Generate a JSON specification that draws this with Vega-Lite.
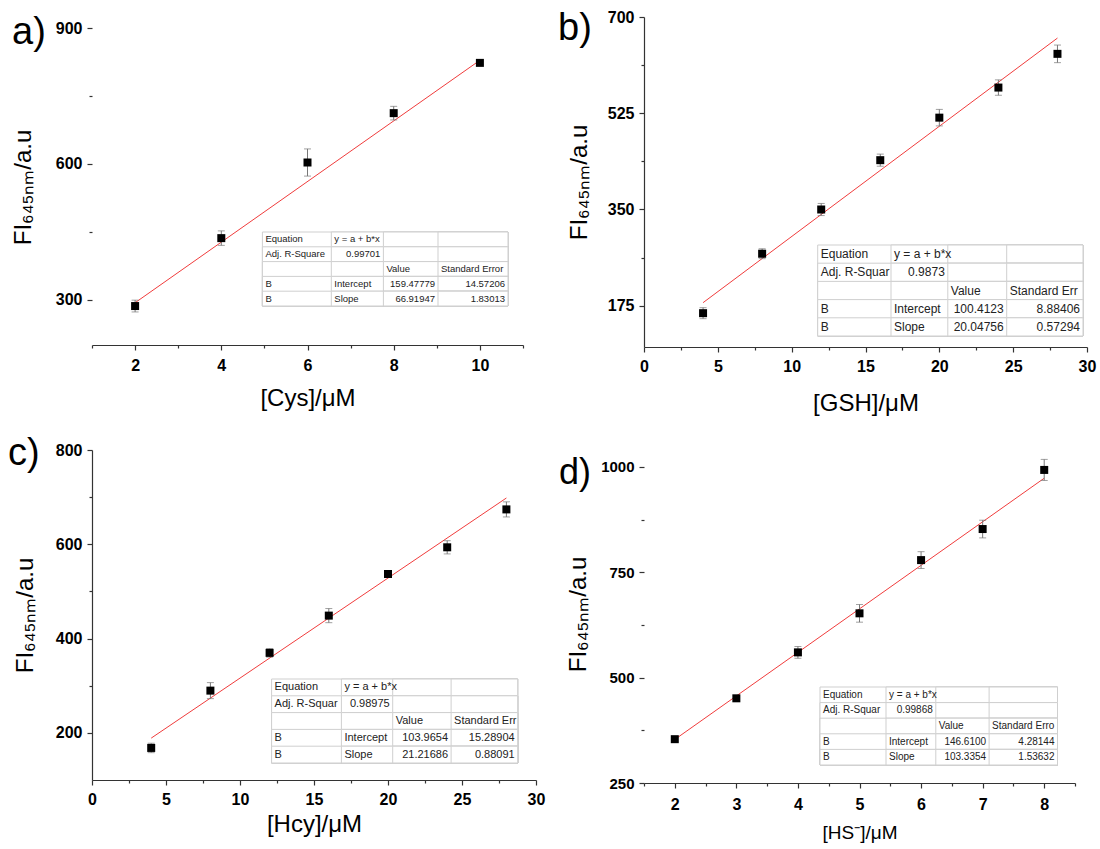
{
  "$schema": "https://vega.github.io/schema/vega-lite/v6.json",
  "autosize": {"type": "none"},
  "padding": {"left": 92, "top": 17, "right": 1008, "bottom": 832},
  "background": "white",
  "config": {
    "font": "Liberation Sans",
    "view": {"stroke": null},
    "axis": {"grid": false, "domainColor": "#333333", "domainWidth": 1.2, "tickColor": "#333333", "tickWidth": 1.2, "labelFont": "Liberation Sans", "labelFontWeight": "bold", "labelFontSize": 16, "labelColor": "#000000", "labelFlush": false, "labelOverlap": false, "labelBound": false, "titleFont": "Liberation Sans", "titleFontWeight": "normal", "titleColor": "#000000", "titleFontSize": 24},
    "axisY": {"labelPadding": 5},
    "title": {"font": "Liberation Sans", "fontWeight": "normal", "color": "#000000", "anchor": "start", "frame": "group", "orient": "top", "offset": 0, "baseline": "alphabetic", "fontSize": 38},
    "text": {"font": "Liberation Sans", "color": "#222222", "baseline": "middle"}
  },
  "datasets": {
    "ptsA": [{"x": 2, "y": 286, "e": 13}, {"x": 4, "y": 436, "e": 16}, {"x": 6, "y": 603, "e": 30}, {"x": 8, "y": 712, "e": 15}, {"x": 10, "y": 823, "e": 4}],
    "fitA": [{"x": 2, "y": 293.3}, {"x": 10, "y": 828.7}],
    "ptsB": [{"x": 4, "y": 161.5, "e": 10}, {"x": 8, "y": 269.6, "e": 9}, {"x": 12, "y": 350, "e": 11}, {"x": 16, "y": 439.7, "e": 11}, {"x": 20, "y": 517, "e": 15}, {"x": 24, "y": 571.7, "e": 14}, {"x": 28, "y": 633, "e": 16}],
    "fitB": [{"x": 4, "y": 180.6}, {"x": 28, "y": 661.7}],
    "ptsC": [{"x": 4, "y": 168, "e": 10}, {"x": 8, "y": 289.6, "e": 17}, {"x": 12, "y": 369.7, "e": 9}, {"x": 16, "y": 448.7, "e": 15}, {"x": 20, "y": 537, "e": 7}, {"x": 24, "y": 593.6, "e": 14}, {"x": 28, "y": 674, "e": 16}],
    "fitC": [{"x": 4, "y": 188.8}, {"x": 28, "y": 698.2}],
    "ptsD": [{"x": 2, "y": 354, "e": 5}, {"x": 3, "y": 451, "e": 6}, {"x": 4, "y": 560, "e": 14}, {"x": 5, "y": 652.7, "e": 21}, {"x": 6, "y": 779, "e": 20}, {"x": 7, "y": 852.7, "e": 21}, {"x": 8, "y": 993, "e": 25}],
    "fitD": [{"x": 2, "y": 353.3}, {"x": 8, "y": 973.3}],
    "tabA": [
      {"r": 0, "c": 0, "t": "Equation"}, {"r": 0, "c": 1, "t": "y = a + b*x"}, {"r": 0, "c": 2, "t": ""}, {"r": 0, "c": 3, "t": ""},
      {"r": 1, "c": 0, "t": "Adj. R-Square"}, {"r": 1, "c": 1, "t": "0.99701"}, {"r": 1, "c": 2, "t": ""}, {"r": 1, "c": 3, "t": ""},
      {"r": 2, "c": 0, "t": ""}, {"r": 2, "c": 1, "t": ""}, {"r": 2, "c": 2, "t": "Value"}, {"r": 2, "c": 3, "t": "Standard Error"},
      {"r": 3, "c": 0, "t": "B"}, {"r": 3, "c": 1, "t": "Intercept"}, {"r": 3, "c": 2, "t": "159.47779"}, {"r": 3, "c": 3, "t": "14.57206"},
      {"r": 4, "c": 0, "t": "B"}, {"r": 4, "c": 1, "t": "Slope"}, {"r": 4, "c": 2, "t": "66.91947"}, {"r": 4, "c": 3, "t": "1.83013"}
    ],
    "tabB": [
      {"r": 0, "c": 0, "t": "Equation"}, {"r": 0, "c": 1, "t": "y = a + b*x"}, {"r": 0, "c": 2, "t": ""}, {"r": 0, "c": 3, "t": ""},
      {"r": 1, "c": 0, "t": "Adj. R-Squar"}, {"r": 1, "c": 1, "t": "0.9873"}, {"r": 1, "c": 2, "t": ""}, {"r": 1, "c": 3, "t": ""},
      {"r": 2, "c": 0, "t": ""}, {"r": 2, "c": 1, "t": ""}, {"r": 2, "c": 2, "t": "Value"}, {"r": 2, "c": 3, "t": "Standard Err"},
      {"r": 3, "c": 0, "t": "B"}, {"r": 3, "c": 1, "t": "Intercept"}, {"r": 3, "c": 2, "t": "100.4123"}, {"r": 3, "c": 3, "t": "8.88406"},
      {"r": 4, "c": 0, "t": "B"}, {"r": 4, "c": 1, "t": "Slope"}, {"r": 4, "c": 2, "t": "20.04756"}, {"r": 4, "c": 3, "t": "0.57294"}
    ],
    "tabC": [
      {"r": 0, "c": 0, "t": "Equation"}, {"r": 0, "c": 1, "t": "y = a + b*x"}, {"r": 0, "c": 2, "t": ""}, {"r": 0, "c": 3, "t": ""},
      {"r": 1, "c": 0, "t": "Adj. R-Squar"}, {"r": 1, "c": 1, "t": "0.98975"}, {"r": 1, "c": 2, "t": ""}, {"r": 1, "c": 3, "t": ""},
      {"r": 2, "c": 0, "t": ""}, {"r": 2, "c": 1, "t": ""}, {"r": 2, "c": 2, "t": "Value"}, {"r": 2, "c": 3, "t": "Standard Err"},
      {"r": 3, "c": 0, "t": "B"}, {"r": 3, "c": 1, "t": "Intercept"}, {"r": 3, "c": 2, "t": "103.9654"}, {"r": 3, "c": 3, "t": "15.28904"},
      {"r": 4, "c": 0, "t": "B"}, {"r": 4, "c": 1, "t": "Slope"}, {"r": 4, "c": 2, "t": "21.21686"}, {"r": 4, "c": 3, "t": "0.88091"}
    ],
    "tabD": [
      {"r": 0, "c": 0, "t": "Equation"}, {"r": 0, "c": 1, "t": "y = a + b*x"}, {"r": 0, "c": 2, "t": ""}, {"r": 0, "c": 3, "t": ""},
      {"r": 1, "c": 0, "t": "Adj. R-Squar"}, {"r": 1, "c": 1, "t": "0.99868"}, {"r": 1, "c": 2, "t": ""}, {"r": 1, "c": 3, "t": ""},
      {"r": 2, "c": 0, "t": ""}, {"r": 2, "c": 1, "t": ""}, {"r": 2, "c": 2, "t": "Value"}, {"r": 2, "c": 3, "t": "Standard Erro"},
      {"r": 3, "c": 0, "t": "B"}, {"r": 3, "c": 1, "t": "Intercept"}, {"r": 3, "c": 2, "t": "146.6100"}, {"r": 3, "c": 3, "t": "4.28144"},
      {"r": 4, "c": 0, "t": "B"}, {"r": 4, "c": 1, "t": "Slope"}, {"r": 4, "c": 2, "t": "103.3354"}, {"r": 4, "c": 3, "t": "1.53632"}
    ]
  },
  "columns": 2,
  "align": "each",
  "bounds": "flush",
  "spacing": {"row": 103, "column": 108},
  "concat": [
    {
      "width": 431, "height": 328,
      "title": {"text": "a)", "dx": -80, "dy": 39},
      "resolve": {"scale": {"x": "independent", "y": "independent"}, "axis": {"x": "independent", "y": "independent"}},
      "layer": [
        {
          "encoding": {
            "x": {"field": "x", "type": "quantitative", "scale": {"domain": [1, 11], "nice": false, "zero": false},
              "axis": {"title": "[Cys]/μM", "values": [1, 2, 3, 4, 5, 6, 7, 8, 9, 10, 11], "labelExpr": "datum.value % 2 === 0 ? '' + datum.value : ''", "tickSize": {"condition": {"test": "datum.value % 2 !== 0", "value": 3}, "value": 5}, "labelPadding": 7, "titleY": 41, "titleBaseline": "top"}},
            "y": {"field": "y", "type": "quantitative", "scale": {"domain": [200, 924.3], "nice": false, "zero": false},
              "axis": {"title": "FI₆₄₅ₙₘ/a.u", "values": [300, 450, 600, 750, 900], "labelExpr": "datum.value % 300 === 0 ? '' + datum.value : ''", "tickSize": {"condition": {"test": "datum.value % 300 !== 0", "value": 3}, "value": 5}, "domain": false, "titleX": -57, "titleY": 170, "titleBaseline": "bottom"}}
          },
          "layer": [
            {"data": {"values": [{}]}, "mark": {"type": "rule", "color": "#333333", "strokeWidth": 1.2}, "encoding": {"x": {"datum": 1}, "y": {"datum": 200}, "y2": {"datum": 900}}},
            {"data": {"name": "fitA"}, "mark": {"type": "line", "color": "#f03c3c", "strokeWidth": 1}},
            {"data": {"name": "ptsA"}, "mark": {"type": "errorbar", "rule": {"color": "#777777", "strokeWidth": 1}, "ticks": {"color": "#777777", "size": 7, "strokeWidth": 1}}, "encoding": {"yError": {"field": "e"}}},
            {"data": {"name": "ptsA"}, "mark": {"type": "square", "size": 64, "color": "#000000", "opacity": 1}}
          ]
        },
        {
          "data": {"name": "tabA"},
          "encoding": {
            "y": {"field": "r", "type": "quantitative", "scale": {"domain": [0, 5], "range": [215, 289], "nice": false, "zero": false}, "axis": null}
          },
          "resolve": {"scale": {"x": "independent"}, "axis": {"x": "independent"}},
          "layer": [
            {
              "encoding": {"x": {"field": "c", "type": "quantitative", "scale": {"domain": [0, 1, 2, 3, 4], "range": [170.4, 239.3, 291.4, 346, 416], "nice": false, "zero": false}, "axis": null}},
              "layer": [
                {"mark": {"type": "rect", "fill": "#ffffff", "stroke": "#cfcfcf", "strokeWidth": 1}, "encoding": {"x2": {"datum": 4}, "y2": {"datum": 5}}},
                {"data": {"values": [{}]}, "mark": {"type": "rect", "fill": null, "stroke": "#8a8a8a", "strokeWidth": 1.2}, "encoding": {"x": {"datum": 0}, "x2": {"datum": 4}, "y": {"datum": 0}, "y2": {"datum": 5}}},
                {"transform": [{"filter": "datum.t != '' && !test(/^[0-9.]+$/, datum.t)"}], "mark": {"type": "text", "align": "left", "dx": 3, "dy": 7.4, "fontSize": 9.5}, "encoding": {"text": {"field": "t"}}}
              ]
            },
            {"transform": [{"filter": "test(/^[0-9.]+$/, datum.t)"}], "mark": {"type": "text", "align": "right", "dx": -3, "dy": 7.4, "fontSize": 9.5},
              "encoding": {"x": {"field": "c", "type": "quantitative", "scale": {"domain": [0, 1, 2, 3], "range": [239.3, 291.4, 346, 416], "nice": false, "zero": false}, "axis": null}, "text": {"field": "t"}}}
          ]
        }
      ]
    },
    {
      "width": 443, "height": 330,
      "title": {"text": "b)", "dx": -86, "dy": 43},
      "resolve": {"scale": {"x": "independent", "y": "independent"}, "axis": {"x": "independent", "y": "independent"}},
      "layer": [
        {
          "encoding": {
            "x": {"field": "x", "type": "quantitative", "scale": {"domain": [0, 30], "nice": false, "zero": false},
              "axis": {"title": "[GSH]/μM", "values": [0, 2.5, 5, 7.5, 10, 12.5, 15, 17.5, 20, 22.5, 25, 27.5, 30], "labelExpr": "datum.value % 5 === 0 ? '' + datum.value : ''", "tickSize": {"condition": {"test": "datum.value % 5 !== 0", "value": 3}, "value": 5}, "labelPadding": 6, "titleY": 44, "titleBaseline": "top"}},
            "y": {"field": "y", "type": "quantitative", "scale": {"domain": [100, 700], "nice": false, "zero": false},
              "axis": {"title": "FI₆₄₅ₙₘ/a.u", "values": [175, 262.5, 350, 437.5, 525, 612.5, 700], "labelExpr": "datum.value % 175 === 0 ? '' + datum.value : ''", "tickSize": {"condition": {"test": "datum.value % 175 !== 0", "value": 3}, "value": 5}, "titleX": -53, "titleY": 165, "titleBaseline": "bottom"}}
          },
          "layer": [
            {"data": {"name": "fitB"}, "mark": {"type": "line", "color": "#f03c3c", "strokeWidth": 1}},
            {"data": {"name": "ptsB"}, "mark": {"type": "errorbar", "rule": {"color": "#777777", "strokeWidth": 1}, "ticks": {"color": "#777777", "size": 7, "strokeWidth": 1}}, "encoding": {"yError": {"field": "e"}}},
            {"data": {"name": "ptsB"}, "mark": {"type": "square", "size": 64, "color": "#000000", "opacity": 1}}
          ]
        },
        {
          "data": {"name": "tabB"},
          "encoding": {
            "y": {"field": "r", "type": "quantitative", "scale": {"domain": [0, 5], "range": [228, 319], "nice": false, "zero": false}, "axis": null}
          },
          "resolve": {"scale": {"x": "independent"}, "axis": {"x": "independent"}},
          "layer": [
            {
              "encoding": {"x": {"field": "c", "type": "quantitative", "scale": {"domain": [0, 1, 2, 3, 4], "range": [173.7, 247, 303.8, 362.7, 439], "nice": false, "zero": false}, "axis": null}},
              "layer": [
                {"mark": {"type": "rect", "fill": "#ffffff", "stroke": "#cfcfcf", "strokeWidth": 1}, "encoding": {"x2": {"datum": 4}, "y2": {"datum": 5}}},
                {"data": {"values": [{}]}, "mark": {"type": "rect", "fill": null, "stroke": "#8a8a8a", "strokeWidth": 1.2}, "encoding": {"x": {"datum": 0}, "x2": {"datum": 4}, "y": {"datum": 0}, "y2": {"datum": 5}}},
                {"transform": [{"filter": "datum.t != '' && !test(/^[0-9.]+$/, datum.t)"}], "mark": {"type": "text", "align": "left", "dx": 3, "dy": 9.1, "fontSize": 12}, "encoding": {"text": {"field": "t"}}}
              ]
            },
            {"transform": [{"filter": "test(/^[0-9.]+$/, datum.t)"}], "mark": {"type": "text", "align": "right", "dx": -3, "dy": 9.1, "fontSize": 12},
              "encoding": {"x": {"field": "c", "type": "quantitative", "scale": {"domain": [0, 1, 2, 3], "range": [247, 303.8, 362.7, 439], "nice": false, "zero": false}, "axis": null}, "text": {"field": "t"}}}
          ]
        }
      ]
    },
    {
      "width": 444, "height": 330,
      "title": {"text": "c)", "dx": -84, "dy": 35},
      "resolve": {"scale": {"x": "independent", "y": "independent"}, "axis": {"x": "independent", "y": "independent"}},
      "layer": [
        {
          "encoding": {
            "x": {"field": "x", "type": "quantitative", "scale": {"domain": [0, 30], "nice": false, "zero": false},
              "axis": {"title": "[Hcy]/μM", "values": [0, 2.5, 5, 7.5, 10, 12.5, 15, 17.5, 20, 22.5, 25, 27.5, 30], "labelExpr": "datum.value % 5 === 0 ? '' + datum.value : ''", "tickSize": {"condition": {"test": "datum.value % 5 !== 0", "value": 3}, "value": 5}, "labelPadding": 6, "titleY": 32, "titleBaseline": "top"}},
            "y": {"field": "y", "type": "quantitative", "scale": {"domain": [100, 800], "nice": false, "zero": false},
              "axis": {"title": "FI₆₄₅ₙₘ/a.u", "values": [200, 300, 400, 500, 600, 700, 800], "labelExpr": "datum.value % 200 === 0 ? '' + datum.value : ''", "tickSize": {"condition": {"test": "datum.value % 200 !== 0", "value": 3}, "value": 5}, "titleX": -55, "titleY": 165, "titleBaseline": "bottom"}}
          },
          "layer": [
            {"data": {"name": "fitC"}, "mark": {"type": "line", "color": "#f03c3c", "strokeWidth": 1}},
            {"data": {"name": "ptsC"}, "mark": {"type": "errorbar", "rule": {"color": "#777777", "strokeWidth": 1}, "ticks": {"color": "#777777", "size": 7, "strokeWidth": 1}}, "encoding": {"yError": {"field": "e"}}},
            {"data": {"name": "ptsC"}, "mark": {"type": "square", "size": 64, "color": "#000000", "opacity": 1}}
          ]
        },
        {
          "data": {"name": "tabC"},
          "encoding": {
            "y": {"field": "r", "type": "quantitative", "scale": {"domain": [0, 5], "range": [229, 313], "nice": false, "zero": false}, "axis": null}
          },
          "resolve": {"scale": {"x": "independent"}, "axis": {"x": "independent"}},
          "layer": [
            {
              "encoding": {"x": {"field": "c", "type": "quantitative", "scale": {"domain": [0, 1, 2, 3, 4], "range": [179.6, 249.4, 300.7, 359.1, 425.7], "nice": false, "zero": false}, "axis": null}},
              "layer": [
                {"mark": {"type": "rect", "fill": "#ffffff", "stroke": "#cfcfcf", "strokeWidth": 1}, "encoding": {"x2": {"datum": 4}, "y2": {"datum": 5}}},
                {"data": {"values": [{}]}, "mark": {"type": "rect", "fill": null, "stroke": "#8a8a8a", "strokeWidth": 1.2}, "encoding": {"x": {"datum": 0}, "x2": {"datum": 4}, "y": {"datum": 0}, "y2": {"datum": 5}}},
                {"transform": [{"filter": "datum.t != '' && !test(/^[0-9.]+$/, datum.t)"}], "mark": {"type": "text", "align": "left", "dx": 3, "dy": 8.4, "fontSize": 11}, "encoding": {"text": {"field": "t"}}}
              ]
            },
            {"transform": [{"filter": "test(/^[0-9.]+$/, datum.t)"}], "mark": {"type": "text", "align": "right", "dx": -3, "dy": 8.4, "fontSize": 11},
              "encoding": {"x": {"field": "c", "type": "quantitative", "scale": {"domain": [0, 1, 2, 3], "range": [249.4, 300.7, 359.1, 425.7], "nice": false, "zero": false}, "axis": null}, "text": {"field": "t"}}}
          ]
        }
      ]
    },
    {
      "width": 431, "height": 333,
      "title": {"text": "d)", "dx": -85, "dy": 46, "fontSize": 36},
      "resolve": {"scale": {"x": "independent", "y": "independent"}, "axis": {"x": "independent", "y": "independent"}},
      "layer": [
        {
          "encoding": {
            "x": {"field": "x", "type": "quantitative", "scale": {"domain": [1.5, 8.5], "nice": false, "zero": false},
              "axis": {"title": "[HS⁻]/μM", "titleFontSize": 19, "values": [1.5, 2, 2.5, 3, 3.5, 4, 4.5, 5, 5.5, 6, 6.5, 7, 7.5, 8, 8.5], "labelExpr": "datum.value % 1 === 0 ? '' + datum.value : ''", "tickSize": {"condition": {"test": "datum.value % 1 !== 0", "value": 3}, "value": 5}, "labelPadding": 8, "titleY": 40, "titleBaseline": "top"}},
            "y": {"field": "y", "type": "quantitative", "scale": {"domain": [250, 1040.3], "nice": false, "zero": false},
              "axis": {"title": "FI₆₄₅ₙₘ/a.u", "labelFontSize": 15, "values": [250, 375, 500, 625, 750, 875, 1000], "labelExpr": "datum.value % 250 === 0 ? '' + datum.value : ''", "tickSize": {"condition": {"test": "datum.value % 250 !== 0", "value": 3}, "value": 5}, "domain": false, "titleX": -54, "titleY": 164, "titleBaseline": "bottom"}}
          },
          "layer": [
            {"data": {"values": [{}]}, "mark": {"type": "rule", "color": "#333333", "strokeWidth": 1.2}, "encoding": {"x": {"datum": 1.5}, "y": {"datum": 250}, "y2": {"datum": 1000}}},
            {"data": {"name": "fitD"}, "mark": {"type": "line", "color": "#f03c3c", "strokeWidth": 1}},
            {"data": {"name": "ptsD"}, "mark": {"type": "errorbar", "rule": {"color": "#777777", "strokeWidth": 1}, "ticks": {"color": "#777777", "size": 7, "strokeWidth": 1}}, "encoding": {"yError": {"field": "e"}}},
            {"data": {"name": "ptsD"}, "mark": {"type": "square", "size": 64, "color": "#000000", "opacity": 1}}
          ]
        },
        {
          "data": {"name": "tabD"},
          "encoding": {
            "y": {"field": "r", "type": "quantitative", "scale": {"domain": [0, 5], "range": [237, 315], "nice": false, "zero": false}, "axis": null}
          },
          "resolve": {"scale": {"x": "independent"}, "axis": {"x": "independent"}},
          "layer": [
            {
              "encoding": {"x": {"field": "c", "type": "quantitative", "scale": {"domain": [0, 1, 2, 3, 4], "range": [176, 242, 291.8, 345.1, 413.5], "nice": false, "zero": false}, "axis": null}},
              "layer": [
                {"mark": {"type": "rect", "fill": "#ffffff", "stroke": "#cfcfcf", "strokeWidth": 1}, "encoding": {"x2": {"datum": 4}, "y2": {"datum": 5}}},
                {"data": {"values": [{}]}, "mark": {"type": "rect", "fill": null, "stroke": "#8a8a8a", "strokeWidth": 1.2}, "encoding": {"x": {"datum": 0}, "x2": {"datum": 4}, "y": {"datum": 0}, "y2": {"datum": 5}}},
                {"transform": [{"filter": "datum.t != '' && !test(/^[0-9.]+$/, datum.t)"}], "mark": {"type": "text", "align": "left", "dx": 3, "dy": 7.8, "fontSize": 10}, "encoding": {"text": {"field": "t"}}}
              ]
            },
            {"transform": [{"filter": "test(/^[0-9.]+$/, datum.t)"}], "mark": {"type": "text", "align": "right", "dx": -3, "dy": 7.8, "fontSize": 10},
              "encoding": {"x": {"field": "c", "type": "quantitative", "scale": {"domain": [0, 1, 2, 3], "range": [242, 291.8, 345.1, 413.5], "nice": false, "zero": false}, "axis": null}, "text": {"field": "t"}}}
          ]
        }
      ]
    }
  ]
}
